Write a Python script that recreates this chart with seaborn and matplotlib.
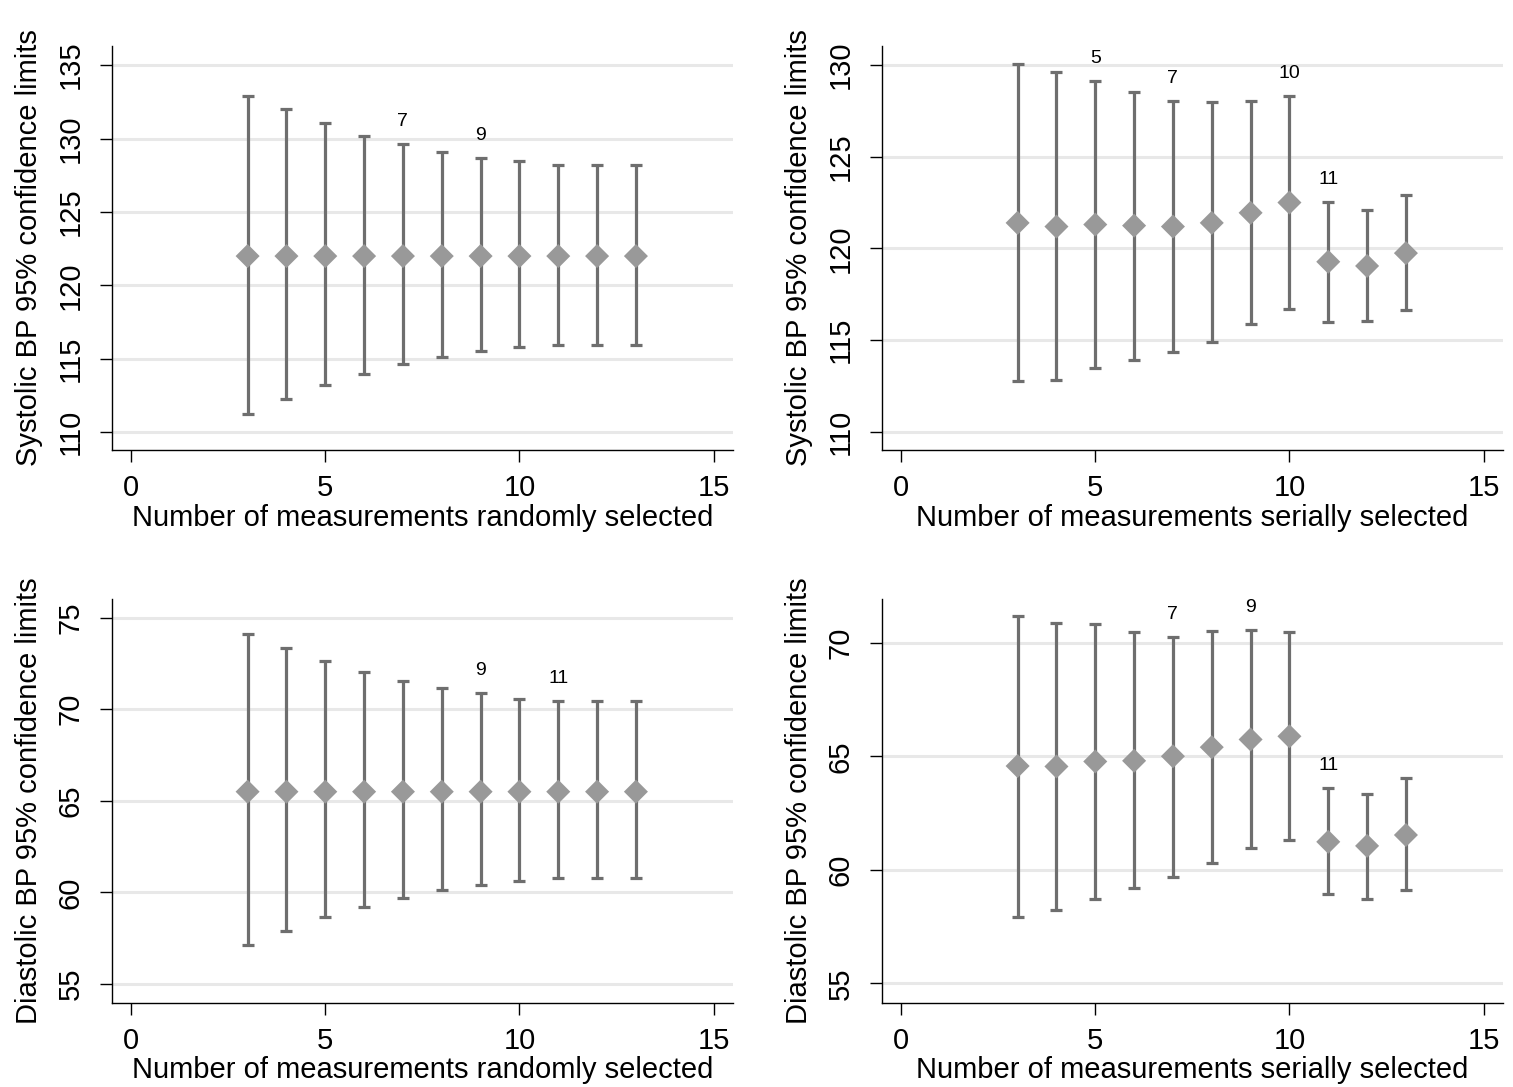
import pandas as pd
import seaborn as sns
import matplotlib
matplotlib.use("Agg")
import matplotlib.pyplot as plt

## data
n_meas = [3, 4, 5, 6, 7, 8, 9, 10, 11, 12, 13]

sys_rand_mean = [122.0] * 11
sys_rand_upper = [132.9, 132.0, 131.05, 130.2, 129.63, 129.1, 128.7, 128.45, 128.22, 128.22, 128.22]
sys_rand_lower = [111.22, 112.28, 113.2, 114.0, 114.64, 115.11, 115.51, 115.84, 115.98, 115.98, 115.98]
sys_rand_labels = [7, 9]

sys_ser_mean = [121.39, 121.19, 121.3, 121.24, 121.19, 121.39, 121.94, 122.5, 119.27, 119.04, 119.74]
sys_ser_upper = [130.04, 129.64, 129.11, 128.53, 128.06, 127.97, 128.06, 128.29, 122.52, 122.07, 122.9]
sys_ser_lower = [112.77, 112.82, 113.45, 113.9, 114.35, 114.88, 115.89, 116.69, 115.97, 116.05, 116.63]
sys_ser_labels = [5, 7, 10, 11]

dia_rand_mean = [65.5] * 11
dia_rand_upper = [74.1, 73.36, 72.63, 72.05, 71.53, 71.15, 70.87, 70.58, 70.45, 70.45, 70.45]
dia_rand_lower = [57.11, 57.88, 58.64, 59.19, 59.67, 60.12, 60.41, 60.64, 60.79, 60.79, 60.79]
dia_rand_labels = [9, 11]

dia_ser_mean = [64.58, 64.56, 64.78, 64.81, 65.01, 65.41, 65.75, 65.89, 61.24, 61.06, 61.54]
dia_ser_upper = [71.17, 70.88, 70.82, 70.49, 70.26, 70.52, 70.59, 70.49, 63.59, 63.33, 64.05]
dia_ser_lower = [57.94, 58.23, 58.74, 59.2, 59.67, 60.31, 60.96, 61.34, 58.92, 58.73, 59.1]
dia_ser_labels = [7, 9, 11]

sys_label = "Systolic BP 95% confidence limits"
dia_label = "Diastolic BP 95% confidence limits"
rand_label = "Number of measurements randomly selected"
ser_label = "Number of measurements serially selected"

sns.set_style("white")
plt.rcParams['font.family'] = ['Liberation Sans', 'DejaVu Sans']
plt.rcParams['text.color'] = 'black'
plt.rcParams['axes.labelcolor'] = 'black'
plt.rcParams['xtick.color'] = 'black'
plt.rcParams['ytick.color'] = 'black'

W, H = 1513, 1087
fig = plt.figure(figsize=(W / 100, H / 100), dpi=100)

panels = [
    # (left px, top px, bottom px, mean, upper, lower, labels, ylim, yticks, ylabel, xlabel)
    (111.7, 46, 450, sys_rand_mean, sys_rand_upper, sys_rand_lower, sys_rand_labels,
     (108.8, 136.3), [110, 115, 120, 125, 130, 135], sys_label, rand_label),
    (881.7, 46, 450, sys_ser_mean, sys_ser_upper, sys_ser_lower, sys_ser_labels,
     (109.0, 131.04), [110, 115, 120, 125, 130], sys_label, ser_label),
    (111.7, 599, 1002.7, dia_rand_mean, dia_rand_upper, dia_rand_lower, dia_rand_labels,
     (53.98, 76.02), [55, 60, 65, 70, 75], dia_label, rand_label),
    (881.7, 599, 1002.7, dia_ser_mean, dia_ser_upper, dia_ser_lower, dia_ser_labels,
     (54.15, 71.94), [55, 60, 65, 70], dia_label, ser_label),
]

for left, top, bottom, mean, upper, lower, labels, ylim, yticks, ylabel, xlabel in panels:
    ax = fig.add_axes([left / W, 1 - bottom / H, 621.3 / W, (bottom - top) / H])
    df = pd.DataFrame({"n": n_meas, "mean": mean, "upper": upper, "lower": lower})

    for yt in yticks:
        ax.axhline(yt, color="#e8e8e8", lw=2.2, zorder=0)

    ax.errorbar(df["n"], df["mean"],
                yerr=[df["mean"] - df["lower"], df["upper"] - df["mean"]],
                fmt="none", ecolor="#6e6e6e", elinewidth=2.3, capsize=4.5,
                capthick=2.3, zorder=2)
    sns.scatterplot(data=df, x="n", y="mean", marker="D", s=150, color="#999999",
                    edgecolor="none", linewidth=0, ax=ax, zorder=3)

    for lab in labels:
        row = df[df["n"] == lab].iloc[0]
        ax.annotate(str(lab), (row["n"], row["upper"]), xytext=(0, 13),
                    textcoords="offset points", ha="center", va="baseline",
                    fontsize=14)

    ax.set_xlim(-0.5, 15.5)
    ax.set_ylim(*ylim)
    ax.set_xticks([0, 5, 10, 15])
    ax.set_yticks(yticks)
    ax.set_xlabel(xlabel, fontsize=21, labelpad=1)
    ax.set_ylabel(ylabel, fontsize=21, labelpad=10)
    ax.tick_params(axis="both", direction="out", length=8.5, width=1.0,
                   color="black", labelsize=21, left=True, bottom=True)
    ax.tick_params(axis="x", pad=9)
    ax.tick_params(axis="y", pad=11)
    for t in ax.get_yticklabels():
        t.set_rotation(90)
        t.set_va("center")
    for side in ["top", "right"]:
        ax.spines[side].set_visible(False)
    for side in ["left", "bottom"]:
        ax.spines[side].set_color("black")
        ax.spines[side].set_linewidth(1.0)
    ax.grid(False)

fig.savefig("out.png", dpi=100, facecolor="white")
